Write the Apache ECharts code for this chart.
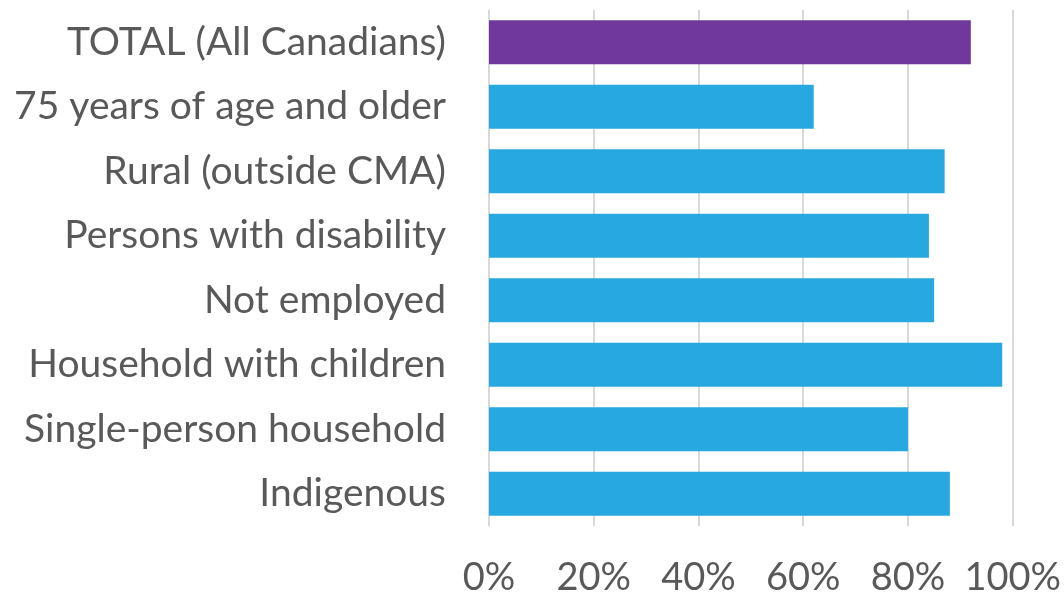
<!DOCTYPE html>
<html>
<head>
<meta charset="utf-8">
<style>
  html, body { margin: 0; padding: 0; background: #ffffff; }
  #chart { width: 1064px; height: 597px; }
</style>
<script src="https://cdn.jsdelivr.net/npm/echarts@6/dist/echarts.min.js"></script>
</head>
<body>
<div id="chart"></div>
<script>
// Share of each group (percent), listed top to bottom
const categories = [
  'TOTAL (All Canadians)',
  '75 years of age and older',
  'Rural (outside CMA)',
  'Persons with disability',
  'Not employed',
  'Household with children',
  'Single-person household',
  'Indigenous'
];
const values = [92, 62, 87, 84, 85, 98, 80, 88];
const tickValues = [0, 20, 40, 60, 80, 100];

const totalColor = '#70389A';
const groupColor = '#27A8E0';
const textColor = '#595959';
const fontFamily = 'Lato, "Open Sans", sans-serif';

const chart = echarts.init(document.getElementById('chart'), null, { renderer: 'canvas' });

chart.setOption({
  animation: false,
  grid: { left: 489, right: 51, top: 10, bottom: 71, containLabel: false },
  xAxis: {
    type: 'value',
    min: tickValues[0],
    max: tickValues[tickValues.length - 1],
    interval: tickValues[1] - tickValues[0],
    axisLine: { show: false },
    axisTick: { show: false },
    splitLine: { show: true, lineStyle: { color: '#D9D9D9', width: 2 } },
    axisLabel: {
      color: textColor,
      fontFamily: fontFamily,
      fontSize: 38,
      margin: 33,
      formatter: v => v + '%'
    }
  },
  yAxis: {
    type: 'category',
    data: categories,
    inverse: true,
    axisLine: { show: false },
    axisTick: { show: false },
    splitLine: { show: false },
    axisLabel: {
      color: textColor,
      fontFamily: fontFamily,
      fontSize: 39,
      margin: 43
    }
  },
  series: [{
    type: 'bar',
    data: values.map((v, i) => ({
      value: v,
      itemStyle: { color: i === 0 ? totalColor : groupColor }
    })),
    barCategoryGap: '32%',
    silent: true
  }]
});
</script>
</body>
</html>
